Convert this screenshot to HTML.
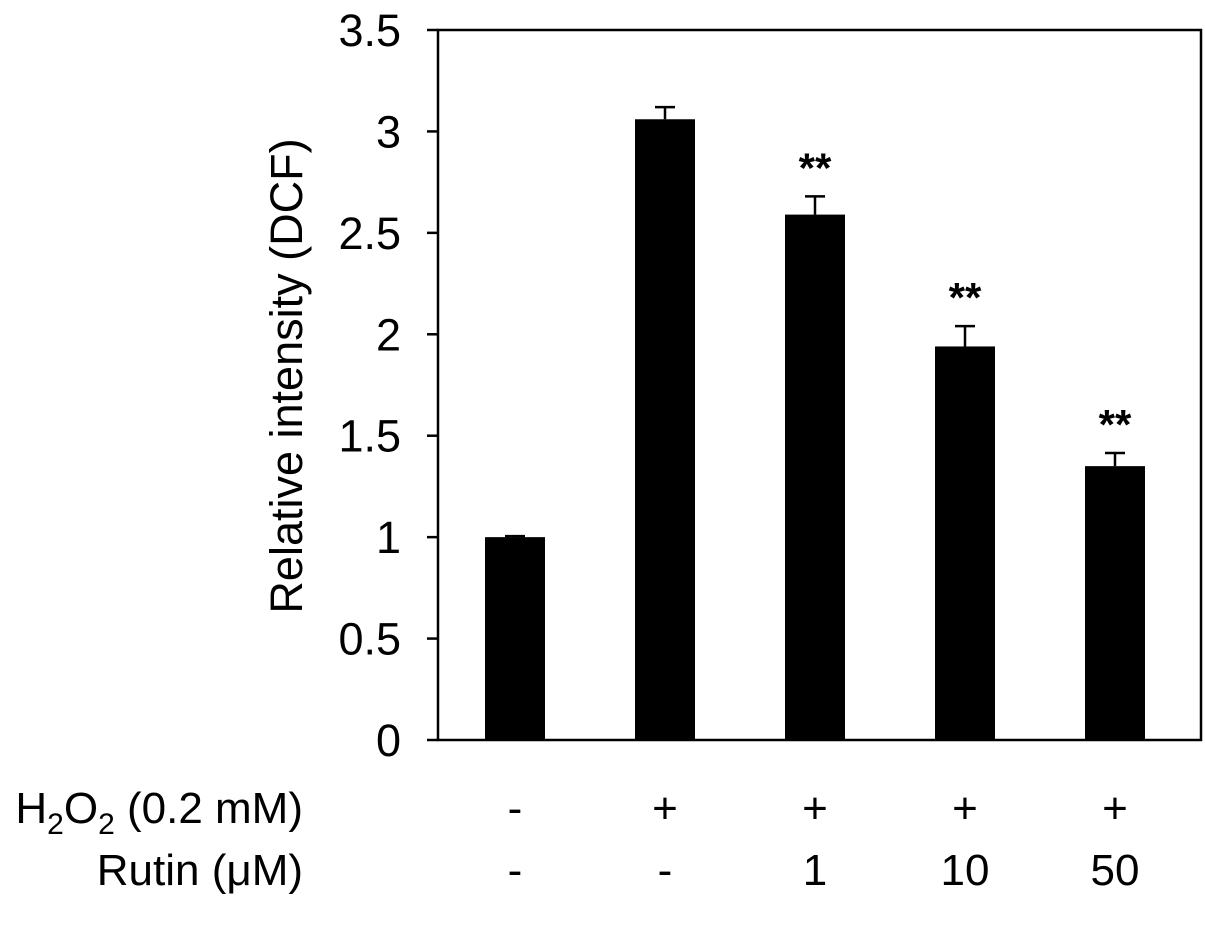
<!DOCTYPE html>
<html><head><meta charset="utf-8"><style>
body{margin:0;background:#fff;}
svg{display:block;font-family:"Liberation Sans",Arial,sans-serif;}
</style></head><body>
<svg id="chart" width="1205" height="932" viewBox="0 0 1205 932"></svg>
<script>
const categories=["Control","H2O2","H2O2+Rutin1","H2O2+Rutin10","H2O2+Rutin50"];
const values=[1.0,3.06,2.59,1.94,1.35];
const errors=[0.005,0.06,0.09,0.10,0.065];
const sig=["","","**","**","**"];
const yTicks=[0,0.5,1,1.5,2,2.5,3,3.5];
const yTickLabels=["0","0.5","1","1.5","2","2.5","3","3.5"];
const h2o2Row=["-","+","+","+","+"];
const rutinRow=["-","-","1","10","50"];

const svg=document.getElementById('chart');
const NS='http://www.w3.org/2000/svg';
const L=438,R=1201,T=30,B=740,yMax=3.5;
const y=v=>B-(v/yMax)*(B-T);
const x=i=>515+i*150;
const bw=60;
function mk(tag,attrs,txt){const e=document.createElementNS(NS,tag);for(const k in attrs)e.setAttribute(k,attrs[k]);if(txt!==undefined)e.textContent=txt;svg.appendChild(e);return e;}

let frame=mk('rect',{x:L,y:T,width:R-L,height:B-T,fill:'none',stroke:'#000','stroke-width':2.5});



yTicks.forEach((t,i)=>{
  const tk=mk('line',{x1:L-11,x2:L,y1:y(t),y2:y(t),stroke:'#000','stroke-width':2.5});
  
  
  const lb=mk('text',{x:L-37,y:y(t)+16,'font-size':45,'text-anchor':'end'},yTickLabels[i]);
  
  
});

const yt=mk('text',{x:0,y:0,'font-size':45,'text-anchor':'middle',transform:'translate(302,376) rotate(-90)'},'Relative intensity (DCF)');



values.forEach((v,i)=>{
  const cx=x(i);
  const eTop=y(v+errors[i]);
  const el=mk('line',{x1:cx,x2:cx,y1:y(v),y2:eTop,stroke:'#000','stroke-width':2.5});
  
  
  const cap=mk('line',{x1:cx-10,x2:cx+10,y1:eTop,y2:eTop,stroke:'#000','stroke-width':2.5});
  
  
  const bar=mk('rect',{x:cx-bw/2,y:y(v),width:bw,height:B-y(v),fill:'#000'});
  
  
  if(sig[i]){
    const s=mk('text',{x:cx,y:eTop-14,'font-size':42,'font-weight':'bold','text-anchor':'middle'},sig[i]);
    
    
  }
  const h=mk('text',{x:cx,y:823,'font-size':44,'text-anchor':'middle'},h2o2Row[i]);
  
  
  const r=mk('text',{x:cx,y:885,'font-size':44,'text-anchor':'middle'},rutinRow[i]);
  
  
});

const hl=mk('text',{x:303,y:823,'font-size':44,'text-anchor':'end'});


hl.innerHTML='H<tspan font-size="30" dy="11">2</tspan><tspan dy="-11">O</tspan><tspan font-size="30" dy="11">2</tspan><tspan dy="-11"> (0.2 mM)</tspan>';
const rl=mk('text',{x:303,y:885,'font-size':44,'text-anchor':'end'},'Rutin (μM)');


</script>
</body></html>
